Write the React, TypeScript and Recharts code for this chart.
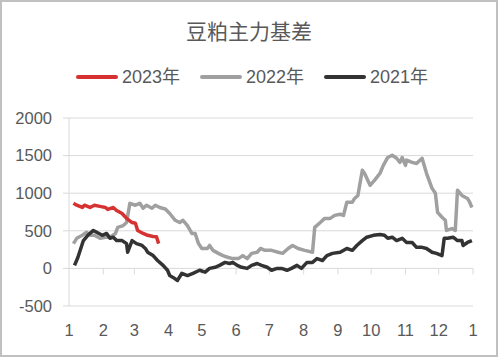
import { CartesianGrid, Line, LineChart, ReferenceLine, XAxis, YAxis } from 'recharts'

document.body.style.margin = '0'

const monthStarts = [0, 31, 59, 90, 120, 151, 181, 212, 243, 273, 304, 334, 365]
const monthLabels = ['1', '2', '3', '4', '5', '6', '7', '8', '9', '10', '11', '12', '1']
const yTicks = [-500, 0, 500, 1000, 1500, 2000]

// day of year -> basis
const days2023 = [4, 7, 12, 14, 19, 23, 28, 33, 35, 40, 43, 48, 52, 57, 60, 62, 67, 71, 76, 79, 81]
const basis2023 = [865, 840, 810, 840, 810, 840, 825, 810, 785, 810, 770, 730, 665, 610, 600, 505, 465, 440, 425, 420, 330]

const days2022 = [
  4, 7, 12, 16, 19, 23, 28, 33, 37, 42, 44, 49, 52, 55, 60, 64, 67, 70, 75, 78, 82, 87, 91, 96, 100, 103,
  107, 111, 114, 117, 120, 125, 127, 130, 135, 139, 144, 148, 153, 157, 161, 165, 170, 173, 177, 183, 189,
  193, 198, 202, 207, 213, 220, 222, 227, 231, 236, 240, 245, 248, 251, 256, 258, 261, 265, 267, 272, 276,
  281, 284, 288, 292, 296, 299, 301, 304, 305, 310, 314, 319, 323, 328, 331, 333, 337, 340, 341, 346, 349,
  351, 355, 360, 362, 364,
]
const basis2022 = [
  330, 400, 440, 480, 440, 440, 400, 415, 415, 465, 545, 570, 610, 865, 840, 865, 800, 840, 800, 840, 810,
  790, 730, 640, 610, 640, 570, 465, 465, 330, 265, 265, 305, 240, 200, 170, 145, 130, 130, 170, 130, 200,
  215, 265, 240, 240, 215, 200, 265, 305, 265, 240, 215, 545, 610, 665, 665, 705, 720, 705, 880, 880, 930,
  970, 1305, 1265, 1105, 1170, 1265, 1370, 1475, 1505, 1465, 1410, 1475, 1370, 1440, 1410, 1395, 1465, 1265,
  1065, 1000, 745, 680, 640, 505, 530, 505, 1040, 970, 930, 880, 810,
]

const days2021 = [
  5, 8, 13, 17, 22, 25, 30, 34, 37, 40, 43, 48, 52, 53, 57, 61, 66, 69, 71, 76, 80, 85, 89, 91, 94, 98, 102,
  107, 112, 118, 123, 127, 132, 136, 141, 145, 148, 152, 156, 161, 165, 170, 174, 179, 183, 188, 192, 197,
  201, 206, 210, 215, 220, 224, 229, 233, 238, 245, 251, 256, 260, 265, 269, 275, 281, 285, 288, 292, 296,
  301, 305, 310, 314, 319, 323, 328, 332, 337, 339, 342, 347, 351, 355, 356, 360, 364,
]
const basis2021 = [
  40, 145, 370, 440, 505, 480, 440, 465, 400, 415, 370, 370, 330, 215, 370, 330, 305, 265, 215, 170, 105, 40,
  -25, -95, -120, -160, -65, -95, -65, -25, -50, 0, 15, 40, 80, 65, 80, 40, 15, 0, 40, 65, 40, 15, -25, 0,
  0, -25, 0, 40, 0, 80, 80, 130, 105, 170, 200, 215, 265, 240, 305, 370, 415, 440, 450, 440, 400, 415, 370,
  400, 345, 345, 280, 280, 265, 215, 200, 170, 400, 400, 415, 370, 370, 305, 345, 370,
]

const toPoints = (days: number[], values: number[]) => days.map((day, i) => ({ day, value: values[i] }))

const series = [
  { name: '2022年', color: '#a0a0a0', data: toPoints(days2022, basis2022) },
  { name: '2021年', color: '#333333', data: toPoints(days2021, basis2021) },
  { name: '2023年', color: '#d63232', data: toPoints(days2023, basis2023) },
]
const legendOrder = ['2023年', '2022年', '2021年']

const axisFont = '"Liberation Sans", "Noto Sans CJK SC", sans-serif'
const gridColor = '#d9d9d9'
const textColor = '#595959'

export default function App() {
  return (
    <div style={{ position: 'relative', width: 498, height: 357, background: '#fff', fontFamily: axisFont }}>
      <div
        style={{
          position: 'absolute',
          top: 19,
          left: 0,
          width: 498,
          textAlign: 'center',
          fontSize: 21,
          lineHeight: '23px',
          color: textColor,
          fontFamily: '"Noto Sans CJK SC", sans-serif',
        }}
      >
        豆粕主力基差
      </div>
      <div
        style={{
          position: 'absolute',
          top: 66,
          left: 0,
          width: 504,
          display: 'flex',
          justifyContent: 'center',
          gap: 20,
          fontSize: 18,
          lineHeight: '22px',
          color: textColor,
        }}
      >
        {legendOrder.map((name) => {
          const s = series.find((x) => x.name === name)!
          return (
            <div key={name} style={{ display: 'flex', alignItems: 'center', gap: 4 }}>
              <span style={{ width: 42, height: 4, borderRadius: 2, background: s.color, display: 'inline-block' }} />
              <span>{name}</span>
            </div>
          )
        })}
      </div>
      <div style={{ position: 'absolute', top: 0, left: 0 }}>
        <LineChart width={498} height={357} margin={{ top: 118, right: 25, bottom: 21, left: 0 }}>
          <CartesianGrid vertical={false} stroke={gridColor} />
          <XAxis
            type="number"
            dataKey="day"
            domain={[0, 365]}
            ticks={monthStarts}
            interval={0}
            tickFormatter={(v: number) => monthLabels[monthStarts.indexOf(v)]}
            axisLine={false}
            tickLine={false}
            tickSize={0}
            tickMargin={18}
            height={30}
            tick={{ fontSize: 16.5, fill: textColor, fontFamily: axisFont }}
          />
          <YAxis
            type="number"
            domain={[-500, 2000]}
            ticks={yTicks}
            interval={0}
            width={69}
            axisLine={{ stroke: gridColor }}
            tickLine={{ stroke: gridColor }}
            tickSize={6}
            tickMargin={11}
            tick={{ fontSize: 16.5, fill: textColor, fontFamily: axisFont }}
          />
          {monthStarts.slice(1).map((d) => (
            <ReferenceLine
              key={d}
              segment={[
                { x: d, y: 0 },
                { x: d, y: -80 },
              ]}
              stroke={gridColor}
            />
          ))}
          {series.map((s) => (
            <Line
              key={s.name}
              data={s.data}
              dataKey="value"
              name={s.name}
              type="linear"
              stroke={s.color}
              strokeWidth={3.5}
              strokeLinejoin="round"
              dot={false}
              activeDot={false}
              isAnimationActive={false}
            />
          ))}
        </LineChart>
      </div>
      <div
        style={{
          position: 'absolute',
          inset: 0,
          border: '2px solid #c0c0c0',
          pointerEvents: 'none',
        }}
      />
    </div>
  )
}
